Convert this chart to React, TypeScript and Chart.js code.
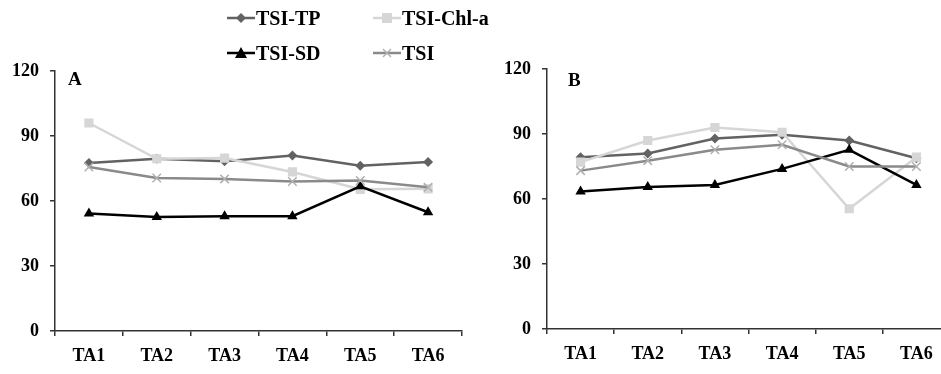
import React, { useEffect, useRef } from "react";
import { Chart, registerables } from "chart.js";

Chart.register(...registerables);

const categories = ["TA1", "TA2", "TA3", "TA4", "TA5", "TA6"];
const yTicks = [0, 30, 60, 90, 120];

const seriesNames = ["TSI-TP", "TSI-Chl-a", "TSI-SD", "TSI"];

// Panel A
const aTP = [77.5, 79.5, 78.3, 81.0, 76.3, 78.0];
const aChl = [96.0, 79.5, 79.8, 73.4, 65.4, 65.6];
const aSD = [54.2, 52.6, 53.0, 53.0, 66.8, 54.8];
const aTSI = [75.7, 70.6, 70.2, 69.0, 69.5, 66.3];

// Panel B
const bTP = [79.3, 81.0, 87.9, 89.7, 87.0, 78.8];
const bChl = [77.0, 87.0, 93.0, 90.8, 55.5, 79.3];
const bSD = [63.5, 65.5, 66.5, 73.9, 82.7, 66.5];
const bTSI = [73.1, 77.7, 82.7, 85.0, 75.0, 75.0];

const FONT = "'Liberation Serif', 'Times New Roman', serif";
const C_TP = "#626262";
const C_CHL = "#d6d6d6";
const C_SD = "#000000";
const C_TSI = "#8a8a8a";
const C_TSI_PT = "#b0b0b0";

function makeDatasets(tp: number[], chl: number[], sd: number[], tsi: number[]) {
  return [
    {
      label: seriesNames[0],
      data: tp,
      borderColor: C_TP,
      backgroundColor: C_TP,
      pointStyle: "rectRot",
      pointRadius: 5,
      pointBorderWidth: 0,
      borderWidth: 2.5,
      order: 3,
    },
    {
      label: seriesNames[1],
      data: chl,
      borderColor: C_CHL,
      backgroundColor: C_CHL,
      pointStyle: "rect",
      pointRadius: 6.5,
      pointBorderWidth: 0,
      borderWidth: 2.5,
      order: 2,
    },
    {
      label: seriesNames[2],
      data: sd,
      borderColor: C_SD,
      backgroundColor: C_SD,
      pointStyle: "triangle",
      pointRadius: 6,
      pointBorderWidth: 0,
      borderWidth: 2.5,
      order: 1,
    },
    {
      label: seriesNames[3],
      data: tsi,
      borderColor: C_TSI,
      backgroundColor: C_TSI_PT,
      pointBorderColor: C_TSI_PT,
      pointStyle: "crossRot",
      pointRadius: 6,
      pointBorderWidth: 1.5,
      borderWidth: 2.5,
      order: 0,
    },
  ];
}

function makeConfig(
  datasets: any[],
  top: number,
  right: number,
  yWidth: number,
  xHeight: number
): any {
  return {
    type: "line",
    data: { labels: categories, datasets },
    options: {
      animation: false,
      responsive: false,
      maintainAspectRatio: false,
      layout: { padding: { top, right, left: 0, bottom: 0 } },
      plugins: { legend: { display: false }, tooltip: { enabled: false } },
      elements: { line: { tension: 0 } },
      scales: {
        x: {
          type: "category",
          offset: true,
          grid: {
            display: true,
            offset: true,
            drawOnChartArea: false,
            drawTicks: true,
            tickLength: 5,
            color: "#333",
            lineWidth: 1.5,
          },
          border: { display: true, color: "#333", width: 1.5 },
          ticks: {
            color: "#000",
            font: { family: FONT, size: 18, weight: "bold" },
            padding: 10,
            maxRotation: 0,
          },
          afterFit: (s: any) => {
            s.height = xHeight;
          },
        },
        y: {
          min: 0,
          max: 120,
          afterBuildTicks: (s: any) => {
            s.ticks = yTicks.map((v) => ({ value: v }));
          },
          grid: {
            display: true,
            drawOnChartArea: false,
            drawTicks: true,
            tickLength: 5,
            color: "#333",
            lineWidth: 1.5,
          },
          border: { display: true, color: "#333", width: 1.5 },
          ticks: {
            color: "#000",
            font: { family: FONT, size: 18, weight: "bold" },
            padding: 11,
          },
          afterFit: (s: any) => {
            s.width = yWidth;
          },
        },
      },
    },
  };
}

function ChartCanvas(props: {
  left: number;
  width: number;
  config: any;
}) {
  const ref = useRef<HTMLCanvasElement | null>(null);
  useEffect(() => {
    if (!ref.current) return;
    const chart = new Chart(ref.current, props.config);
    return () => chart.destroy();
  }, []);
  return (
    <canvas
      ref={ref}
      width={props.width}
      height={374}
      style={{
        position: "absolute",
        left: props.left,
        top: 0,
        width: props.width,
        height: 374,
      }}
    />
  );
}

function Marker(props: { kind: string }) {
  const k = props.kind;
  let color = C_TP;
  let mark: any = null;
  if (k === "tp") {
    color = C_TP;
    mark = <polygon points="14,1 19,6 14,11 9,6" fill={C_TP} />;
  } else if (k === "chl") {
    color = C_CHL;
    mark = <rect x={9} y={1} width={10} height={10} fill={C_CHL} />;
  } else if (k === "sd") {
    color = C_SD;
    mark = <polygon points="14,0 20,11 8,11" fill={C_SD} />;
  } else {
    color = C_TSI;
    mark = (
      <g stroke={C_TSI_PT} strokeWidth={1.5}>
        <line x1={10} y1={2} x2={18} y2={10} />
        <line x1={18} y1={2} x2={10} y2={10} />
      </g>
    );
  }
  return (
    <svg width={28} height={12} style={{ display: "block" }}>
      <line x1={0} y1={6} x2={28} y2={6} stroke={color} strokeWidth={2.5} />
      {mark}
    </svg>
  );
}

function LegendItem(props: { kind: string; label: string; left: number; cy: number }) {
  return (
    <div
      style={{
        position: "absolute",
        left: props.left,
        top: props.cy - 12,
        height: 24,
        display: "flex",
        alignItems: "center",
        whiteSpace: "nowrap",
      }}
    >
      <Marker kind={props.kind} />
      <span
        style={{
          fontFamily: FONT,
          fontWeight: "bold",
          fontSize: 20,
          color: "#000",
          marginLeft: 1,
          lineHeight: "24px",
        }}
      >
        {props.label}
      </span>
    </div>
  );
}

export default function App() {
  useEffect(() => {
    document.body.style.margin = "0";
  }, []);
  const cfgA = makeConfig(makeDatasets(aTP, aChl, aSD, aTSI), 71, 8, 55, 43);
  const cfgB = makeConfig(makeDatasets(bTP, bChl, bSD, bTSI), 69, 10, 77, 45);
  return (
    <div
      style={{
        position: "fixed",
        left: 0,
        top: 0,
        width: 941,
        height: 374,
        overflow: "hidden",
        background: "#fff",
      }}
    >
      <ChartCanvas left={0} width={470} config={cfgA} />
      <ChartCanvas left={470} width={490} config={cfgB} />
      <LegendItem kind="tp" label={seriesNames[0]} left={227} cy={18} />
      <LegendItem kind="chl" label={seriesNames[1]} left={373} cy={18} />
      <LegendItem kind="sd" label={seriesNames[2]} left={227} cy={53} />
      <LegendItem kind="tsi" label={seriesNames[3]} left={373} cy={53} />
      <div
        style={{
          position: "absolute",
          left: 68,
          top: 68,
          fontFamily: FONT,
          fontWeight: "bold",
          fontSize: 19,
          color: "#000",
          lineHeight: "22px",
        }}
      >
        A
      </div>
      <div
        style={{
          position: "absolute",
          left: 568,
          top: 69,
          fontFamily: FONT,
          fontWeight: "bold",
          fontSize: 19,
          color: "#000",
          lineHeight: "22px",
        }}
      >
        B
      </div>
    </div>
  );
}
